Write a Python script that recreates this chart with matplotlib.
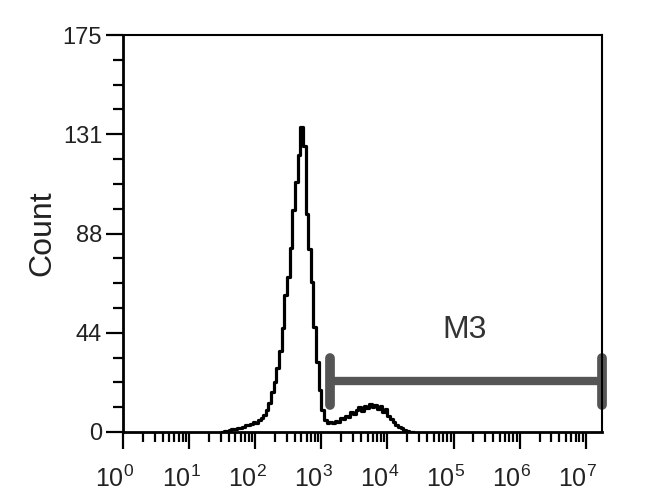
import numpy as np
import matplotlib
matplotlib.use("Agg")
import matplotlib.pyplot as plt
from matplotlib.ticker import FixedLocator, LogLocator, NullFormatter
from matplotlib.transforms import ScaledTranslation

plt.rcParams['font.family'] = ['Liberation Sans', 'DejaVu Sans']
plt.rcParams['mathtext.fontset'] = 'custom'
plt.rcParams['mathtext.rm'] = 'Liberation Sans'
plt.rcParams['mathtext.it'] = 'Liberation Sans'

# histogram: log10 bin centres and counts
log_centers = [1.50, 1.54, 1.58, 1.62, 1.66, 1.70, 1.74, 1.78, 1.82, 1.86,
               1.90, 1.94, 1.98, 2.02, 2.06, 2.10, 2.14, 2.18, 2.22, 2.26,
               2.30, 2.34, 2.38, 2.42, 2.46, 2.50, 2.54, 2.58, 2.62, 2.66,
               2.70, 2.74, 2.78, 2.82, 2.86, 2.90, 2.94, 2.98, 3.02, 3.06,
               3.10, 3.14, 3.18, 3.22, 3.26, 3.30, 3.34, 3.38, 3.42, 3.46,
               3.50, 3.54, 3.58, 3.62, 3.66, 3.70, 3.74, 3.78, 3.82, 3.86,
               3.90, 3.94, 3.98, 4.02, 4.06, 4.10, 4.14, 4.18, 4.22, 4.26,
               4.30, 4.34, 4.38]
counts = [0, 0.3, 0.5, 0.8, 1.2, 1.5, 1.9, 1.6, 2.4, 2.9,
          3.3, 3.6, 4.4, 3.9, 5.2, 6.1, 7.4, 9.6, 12.8, 17.5,
          22.0, 28.4, 35.5, 46.0, 60.2, 68.5, 81.0, 98.0, 110.0, 122.0,
          134.5, 126.0, 96.0, 80.5, 66.0, 46.5, 31.0, 18.5, 9.5, 5.5,
          3.8, 4.6, 3.9, 5.0, 4.4, 6.2, 5.6, 7.1, 6.5, 8.8,
          7.9, 9.6, 10.8, 9.4, 11.6, 10.5, 12.4, 11.2, 12.0, 10.3,
          11.5, 9.0, 10.2, 7.1, 5.6, 4.3, 3.2, 2.4, 1.6, 1.0,
          0.6, 0.2, 0]

# marker M3
m3_label = "M3"
m3_start = 1350.0
m3_end = 10 ** 7.245
m3_level = 22.5
m3_cap_low = 12.0
m3_cap_high = 32.5
m3_text_pos = (10 ** 5.17, 45)

y_major = [0, 43.75, 87.5, 131.25, 175]
y_major_labels = ["0", "44", "88", "131", "175"]
y_minor = list(np.linspace(0, 175, 17))
x_decades = list(range(0, 8))

fig = plt.figure(figsize=(6.5, 4.97), dpi=100)
ax = fig.add_axes([123 / 650, 65 / 497, 479 / 650, 397 / 497])

x = 10 ** np.array(log_centers)
ax.step(x, counts, where='mid', color='black', lw=2.3)

# marker bar
ax.plot([m3_start, m3_end], [m3_level, m3_level], color='#555555', lw=6,
        solid_capstyle='butt', clip_on=False)
for xv in (m3_start, m3_end):
    ax.plot([xv, xv], [m3_cap_low, m3_cap_high], color='#555555', lw=7,
            solid_capstyle='round', clip_on=False)
ax.text(m3_text_pos[0], m3_text_pos[1], m3_label, fontsize=23,
        color='#333333', ha='center', va='center')

ax.set_xscale('log')
ax.set_xlim(1, 10 ** 7.245)
ax.set_ylim(0, 175)

ax.set_xticks([10 ** d for d in x_decades])
ax.set_xticklabels([r'$\mathregular{10^{%d}}$' % d for d in x_decades])
ax.xaxis.set_minor_locator(LogLocator(base=10, subs=np.arange(2, 10), numticks=20))
ax.xaxis.set_minor_formatter(NullFormatter())

ax.yaxis.set_major_locator(FixedLocator(y_major))
ax.set_yticklabels(y_major_labels)
ax.yaxis.set_minor_locator(FixedLocator(y_minor))

ax.tick_params(axis='both', which='major', direction='out', length=12,
               width=1.6, color='black')
ax.tick_params(axis='both', which='minor', direction='out', length=7,
               width=1.6, color='black')
ax.tick_params(axis='y', which='major', labelsize=17, pad=3, labelcolor='#222222')
ax.tick_params(axis='x', which='major', labelsize=18, pad=12, labelcolor='#222222')

for lab in ax.get_xticklabels():
    lab.set_transform(lab.get_transform() + ScaledTranslation(-8 / 100, 0, fig.dpi_scale_trans))

for side in ['left', 'bottom']:
    ax.spines[side].set_linewidth(2.0)
for side in ['top', 'right']:
    ax.spines[side].set_linewidth(1.5)

ax.set_ylabel("Count", fontsize=23, color='#222222', labelpad=4)

fig.savefig("out.png", dpi=100)
